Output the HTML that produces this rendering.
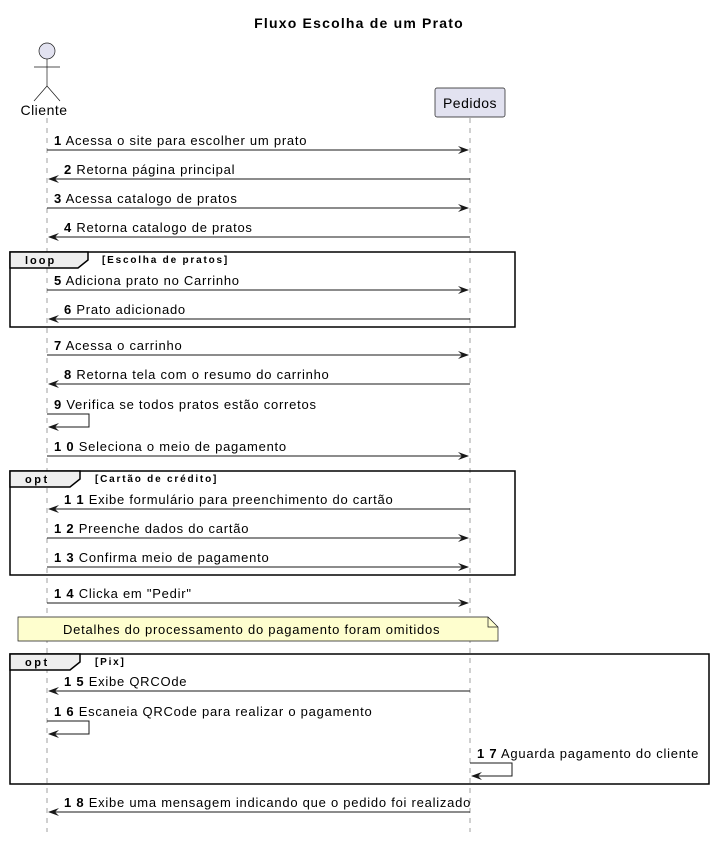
<!DOCTYPE html>
<html><head><meta charset="utf-8"><style>
html,body{margin:0;padding:0;background:#fff}
svg text{font-family:"Liberation Sans",sans-serif;font-size:13px;letter-spacing:0.75px;fill:#000}
.b{font-weight:bold}
.m{stroke:#181818;stroke-width:1;fill:none}
.fr{stroke:#000;stroke-width:1.5;fill:none}
.ah{fill:#181818}
</style></head><body>
<svg width="715" height="837" viewBox="0 0 715 837" xmlns="http://www.w3.org/2000/svg">
<text x="359" y="28" text-anchor="middle" class="b" style="font-size:14px;letter-spacing:1.2px">Fluxo Escolha de um Prato</text>
<line x1="47" y1="118" x2="47" y2="832" stroke="#a0a0a0" stroke-dasharray="5,5"/>
<line x1="470" y1="118" x2="470" y2="832" stroke="#a0a0a0" stroke-dasharray="5,5"/>
<circle cx="47" cy="51" r="8" fill="#e2e2f0" stroke="#181818" stroke-width="0.7"/>
<line x1="47" y1="59" x2="47" y2="86" stroke="#181818" stroke-width="0.7"/>
<line x1="34" y1="67" x2="60" y2="67" stroke="#181818" stroke-width="0.7"/>
<line x1="47" y1="86" x2="34" y2="101" stroke="#181818" stroke-width="0.7"/>
<line x1="47" y1="86" x2="60" y2="101" stroke="#181818" stroke-width="0.7"/>
<text x="44" y="115" text-anchor="middle" style="font-size:14px;letter-spacing:0.5px">Cliente</text>
<rect x="435" y="88" width="70" height="29" rx="2" fill="#e2e2f0" stroke="#181818" stroke-width="0.7"/>
<text x="470" y="108" text-anchor="middle" style="font-size:14px;letter-spacing:0.5px">Pedidos</text>

<rect x="10" y="252" width="505" height="75" class="fr"/>
<path d="M10 252 H88 V260 L78 268 H10 Z" fill="#eee" stroke="#000" stroke-width="1.5"/>
<text x="25" y="264" class="b" style="font-size:11px;letter-spacing:2px">loop</text>
<text x="102" y="263" class="b" style="font-size:10px;letter-spacing:1.8px">[Escolha de pratos]</text>
<rect x="10" y="471" width="505" height="104" class="fr"/>
<path d="M10 471 H80 V479 L70 487 H10 Z" fill="#eee" stroke="#000" stroke-width="1.5"/>
<text x="25" y="483" class="b" style="font-size:11px;letter-spacing:2.5px">opt</text>
<text x="95" y="482" class="b" style="font-size:10px;letter-spacing:1.8px">[Cartão de crédito]</text>
<rect x="10" y="654" width="699" height="130" class="fr"/>
<path d="M10 654 H80 V662 L70 670 H10 Z" fill="#eee" stroke="#000" stroke-width="1.5"/>
<text x="25" y="666" class="b" style="font-size:11px;letter-spacing:2.5px">opt</text>
<text x="95" y="665" class="b" style="font-size:10px;letter-spacing:1.8px">[Pix]</text>

<path d="M18 617 H488 L498 627 V641 H18 Z" fill="#fefece" stroke="#181818" stroke-width="0.7"/>
<path d="M488 617 V627 H498" fill="none" stroke="#181818" stroke-width="0.7"/>
<text x="63" y="634">Detalhes do processamento do pagamento foram omitidos</text>

<g>
<line x1="47" y1="150" x2="468" y2="150" class="m"/><path d="M469 150 L458 146 L462 150 L458 154 Z" class="ah"/>
<text x="54" y="145"><tspan class="b">1</tspan> Acessa o site para escolher um prato</text>
<line x1="49" y1="179" x2="470" y2="179" class="m"/><path d="M48 179 L59 175 L55 179 L59 183 Z" class="ah"/>
<text x="64" y="174"><tspan class="b">2</tspan> Retorna página principal</text>
<line x1="47" y1="208" x2="468" y2="208" class="m"/><path d="M469 208 L458 204 L462 208 L458 212 Z" class="ah"/>
<text x="54" y="203"><tspan class="b">3</tspan> Acessa catalogo de pratos</text>
<line x1="49" y1="237" x2="470" y2="237" class="m"/><path d="M48 237 L59 233 L55 237 L59 241 Z" class="ah"/>
<text x="64" y="232"><tspan class="b">4</tspan> Retorna catalogo de pratos</text>
<line x1="47" y1="290" x2="468" y2="290" class="m"/><path d="M469 290 L458 286 L462 290 L458 294 Z" class="ah"/>
<text x="54" y="285"><tspan class="b">5</tspan> Adiciona prato no Carrinho</text>
<line x1="49" y1="319" x2="470" y2="319" class="m"/><path d="M48 319 L59 315 L55 319 L59 323 Z" class="ah"/>
<text x="64" y="314"><tspan class="b">6</tspan> Prato adicionado</text>
<line x1="47" y1="355" x2="468" y2="355" class="m"/><path d="M469 355 L458 351 L462 355 L458 359 Z" class="ah"/>
<text x="54" y="350"><tspan class="b">7</tspan> Acessa o carrinho</text>
<line x1="49" y1="384" x2="470" y2="384" class="m"/><path d="M48 384 L59 380 L55 384 L59 388 Z" class="ah"/>
<text x="64" y="379"><tspan class="b">8</tspan> Retorna tela com o resumo do carrinho</text>
<path d="M47 414 H89 V427 H49" class="m"/><path d="M48 427 L59 423 L55 427 L59 431 Z" class="ah"/>
<text x="54" y="409"><tspan class="b">9</tspan> Verifica se todos pratos estão corretos</text>
<line x1="47" y1="456" x2="468" y2="456" class="m"/><path d="M469 456 L458 452 L462 456 L458 460 Z" class="ah"/>
<text x="54" y="451"><tspan class="b">1 0</tspan> Seleciona o meio de pagamento</text>
<line x1="49" y1="509" x2="470" y2="509" class="m"/><path d="M48 509 L59 505 L55 509 L59 513 Z" class="ah"/>
<text x="64" y="504"><tspan class="b">1 1</tspan> Exibe formulário para preenchimento do cartão</text>
<line x1="47" y1="538" x2="468" y2="538" class="m"/><path d="M469 538 L458 534 L462 538 L458 542 Z" class="ah"/>
<text x="54" y="533"><tspan class="b">1 2</tspan> Preenche dados do cartão</text>
<line x1="47" y1="567" x2="468" y2="567" class="m"/><path d="M469 567 L458 563 L462 567 L458 571 Z" class="ah"/>
<text x="54" y="562"><tspan class="b">1 3</tspan> Confirma meio de pagamento</text>
<line x1="47" y1="603" x2="468" y2="603" class="m"/><path d="M469 603 L458 599 L462 603 L458 607 Z" class="ah"/>
<text x="54" y="598"><tspan class="b">1 4</tspan> Clicka em "Pedir"</text>
<line x1="49" y1="691" x2="470" y2="691" class="m"/><path d="M48 691 L59 687 L55 691 L59 695 Z" class="ah"/>
<text x="64" y="686"><tspan class="b">1 5</tspan> Exibe QRCOde</text>
<path d="M47 721 H89 V734 H49" class="m"/><path d="M48 734 L59 730 L55 734 L59 738 Z" class="ah"/>
<text x="54" y="716"><tspan class="b">1 6</tspan> Escaneia QRCode para realizar o pagamento</text>
<path d="M470 763 H512 V776 H472" class="m"/><path d="M471 776 L482 772 L478 776 L482 780 Z" class="ah"/>
<text x="477" y="758"><tspan class="b">1 7</tspan> Aguarda pagamento do cliente</text>
<line x1="49" y1="812" x2="470" y2="812" class="m"/><path d="M48 812 L59 808 L55 812 L59 816 Z" class="ah"/>
<text x="64" y="807"><tspan class="b">1 8</tspan> Exibe uma mensagem indicando que o pedido foi realizado</text>
</g>
</svg>
</body></html>
